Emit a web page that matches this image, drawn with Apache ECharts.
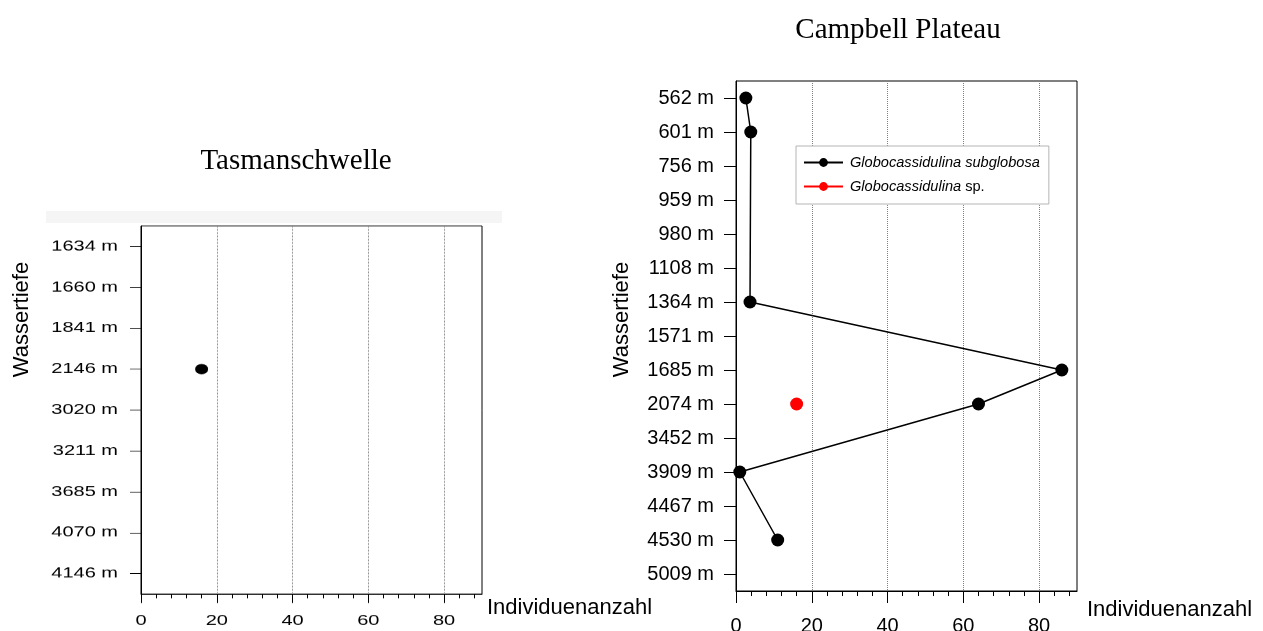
<!DOCTYPE html>
<html>
<head>
<meta charset="utf-8">
<script src="https://cdn.jsdelivr.net/npm/echarts@6/dist/echarts.min.js"></script>
<style>
  html, body { margin: 0; padding: 0; background: #fff; overflow: hidden; }
  /* The Tasmanschwelle panel is drawn at full plot height and squeezed vertically */
  #tasman { position: absolute; left: 0; top: 0; width: 1263px; height: 876px;
            transform: scaleY(0.72); transform-origin: 0 0; }
  #campbell { position: absolute; left: 0; top: 0; width: 1263px; height: 631px; }
</style>
</head>
<body>
<div id="tasman"></div>
<div id="campbell"></div>
<script>
// ---- Tasmanschwelle ----
const tasmanDepths = ['1634 m', '1660 m', '1841 m', '2146 m', '3020 m', '3211 m', '3685 m', '4070 m', '4146 m'];
const tasmanSubglobosa = [null, null, null, 16, null, null, null, null, null];

// ---- Campbell Plateau ----
const campbellDepths = ['562 m', '601 m', '756 m', '959 m', '980 m', '1108 m', '1364 m', '1571 m',
                        '1685 m', '2074 m', '3452 m', '3909 m', '4467 m', '4530 m', '5009 m'];
const campbellSubglobosa = [2.6, 3.9, null, null, null, null, 3.7, null, 86, 64, null, 1, null, 11, null];
const campbellSp = [null, null, null, null, null, null, null, null, null, 16, null, null, null, null, null];

// ---- count axis ----
const countMax = 90;
const countTicks = [0, 20, 40, 60, 80];
const countMinorTicks = [4, 8, 12, 16, 24, 28, 32, 36, 44, 48, 52, 56, 64, 68, 72, 76, 84, 88];

const seriesNames = ['Globocassidulina subglobosa', 'Globocassidulina sp.'];

const SANS = '"Liberation Sans", Arial, Helvetica, sans-serif';
const SERIF = '"Liberation Serif", "Times New Roman", serif';

// vertical squeeze factor of the left panel (must match the CSS transform)
const SQUEEZE = 0.72;

function countAxes(o) {
  return [
    {
      type: 'value', gridIndex: 0, min: 0, max: countMax, interval: 20, position: 'bottom',
      axisLine: { show: true, lineStyle: { color: '#000', width: 1 } },
      axisTick: { show: false },
      axisLabel: { show: true, showMinLabel: true, showMaxLabel: false, margin: o.labelMargin,
                   fontSize: 20, fontFamily: SANS, color: '#000' },
      splitLine: { show: true, showMinLine: false, showMaxLine: false,
                   lineStyle: { color: '#808080', type: 'dotted', width: 1 } }
    },
    {
      type: 'value', gridIndex: 0, min: 0, max: countMax, position: 'bottom',
      axisLine: { show: false }, axisLabel: { show: false }, splitLine: { show: false },
      axisTick: { show: true, customValues: countTicks, length: o.majorTick,
                  lineStyle: { color: '#000', width: 1 } }
    },
    {
      type: 'value', gridIndex: 0, min: 0, max: countMax, position: 'bottom',
      axisLine: { show: false }, axisLabel: { show: false }, splitLine: { show: false },
      axisTick: { show: true, customValues: countMinorTicks, length: o.minorTick,
                  lineStyle: { color: '#000', width: 1 } }
    }
  ];
}

function depthAxis(depths, o) {
  return {
    type: 'category', data: depths, inverse: true, boundaryGap: true,
    axisLine: { show: true, lineStyle: { color: '#000', width: 1 } },
    axisTick: { show: true, alignWithLabel: true, length: o.tick, lineStyle: { color: '#000', width: 1 } },
    axisLabel: { interval: 0, margin: o.labelMargin, fontSize: 20, fontFamily: SANS, color: '#000' },
    splitLine: { show: false }
  };
}

// ---------- left panel: Tasmanschwelle ----------
const tasmanChart = echarts.init(document.getElementById('tasman'), null, { renderer: 'canvas' });
tasmanChart.setOption({
  animation: false,
  backgroundColor: 'transparent',
  textStyle: { fontFamily: SANS },
  grid: { left: 141, top: 226 / SQUEEZE, width: 341, height: 368 / SQUEEZE,
          outerBoundsMode: 'none', containLabel: false,
          show: true, borderColor: '#000', borderWidth: 1, backgroundColor: 'transparent' },
  xAxis: countAxes({ labelMargin: 27.5, majorTick: 12.5, minorTick: 6 }),
  yAxis: depthAxis(tasmanDepths, { tick: 11, labelMargin: 23 }),
  series: [{
    name: seriesNames[0], type: 'line', xAxisIndex: 0, yAxisIndex: 0,
    data: tasmanSubglobosa, connectNulls: true,
    symbol: 'circle', symbolSize: [13, 14.5],
    itemStyle: { color: '#000' }, lineStyle: { color: '#000', width: 1.5 }
  }]
});

// ---------- right panel: Campbell Plateau, plus titles and axis names ----------
const campbellChart = echarts.init(document.getElementById('campbell'), null, { renderer: 'canvas' });
campbellChart.setOption({
  animation: false,
  backgroundColor: 'transparent',
  textStyle: { fontFamily: SANS },
  title: [
    { text: 'Tasmanschwelle', left: 296, top: 147, textAlign: 'center', padding: 0,
      textStyle: { fontFamily: SERIF, fontSize: 29, fontWeight: 'normal', color: '#000' } },
    { text: 'Campbell Plateau', left: 898, top: 15.5, textAlign: 'center', padding: 0,
      textStyle: { fontFamily: SERIF, fontSize: 29, fontWeight: 'normal', color: '#000' } }
  ],
  legend: {
    data: seriesNames, orient: 'vertical', left: 796, top: 146,
    padding: [9, 9, 10, 7], itemWidth: 39, itemHeight: 11, itemGap: 9,
    backgroundColor: '#fff', borderColor: '#b4b4b4', borderWidth: 1, borderRadius: 0,
    selectedMode: false,
    formatter: function (name) {
      return name === 'Globocassidulina sp.' ? '{i|Globocassidulina} {n|sp.}' : '{i|' + name + '}';
    },
    textStyle: {
      fontSize: 14.6, color: '#000', padding: [0, 0, 0, 2],
      rich: {
        i: { fontStyle: 'italic', fontSize: 14.6, fontFamily: SANS, color: '#000' },
        n: { fontSize: 14.6, fontFamily: SANS, color: '#000' }
      }
    }
  },
  grid: { left: 736, top: 81, width: 341, height: 510,
          outerBoundsMode: 'none', containLabel: false,
          show: true, borderColor: '#000', borderWidth: 1, backgroundColor: 'transparent' },
  xAxis: countAxes({ labelMargin: 25, majorTick: 12, minorTick: 5 }),
  yAxis: depthAxis(campbellDepths, { tick: 12, labelMargin: 22 }),
  series: [
    {
      name: seriesNames[0], type: 'line', xAxisIndex: 0, yAxisIndex: 0,
      data: campbellSubglobosa, connectNulls: true,
      symbol: 'circle', symbolSize: 13,
      itemStyle: { color: '#000' }, lineStyle: { color: '#000', width: 1.5 }
    },
    {
      name: seriesNames[1], type: 'line', xAxisIndex: 0, yAxisIndex: 0,
      data: campbellSp, connectNulls: true,
      symbol: 'circle', symbolSize: 13,
      itemStyle: { color: '#ff0000' }, lineStyle: { color: '#ff0000', width: 1.5 }
    }
  ],
  graphic: [
    { type: 'rect', silent: true, z: -10,
      shape: { x: 46, y: 211, width: 456, height: 12 }, style: { fill: '#f5f5f5' } },
    { type: 'text', silent: true, x: 22, y: 319.5, rotation: Math.PI / 2,
      style: { text: 'Wassertiefe', fontSize: 22, fontFamily: SANS, fill: '#000',
               align: 'center', verticalAlign: 'middle' } },
    { type: 'text', silent: true, x: 622, y: 319.5, rotation: Math.PI / 2,
      style: { text: 'Wassertiefe', fontSize: 22, fontFamily: SANS, fill: '#000',
               align: 'center', verticalAlign: 'middle' } },
    { type: 'text', silent: true, x: 487, y: 608,
      style: { text: 'Individuenanzahl', fontSize: 22, fontFamily: SANS, fill: '#000',
               align: 'left', verticalAlign: 'middle' } },
    { type: 'text', silent: true, x: 1087, y: 609.5,
      style: { text: 'Individuenanzahl', fontSize: 22, fontFamily: SANS, fill: '#000',
               align: 'left', verticalAlign: 'middle' } }
  ]
});
</script>
</body>
</html>
